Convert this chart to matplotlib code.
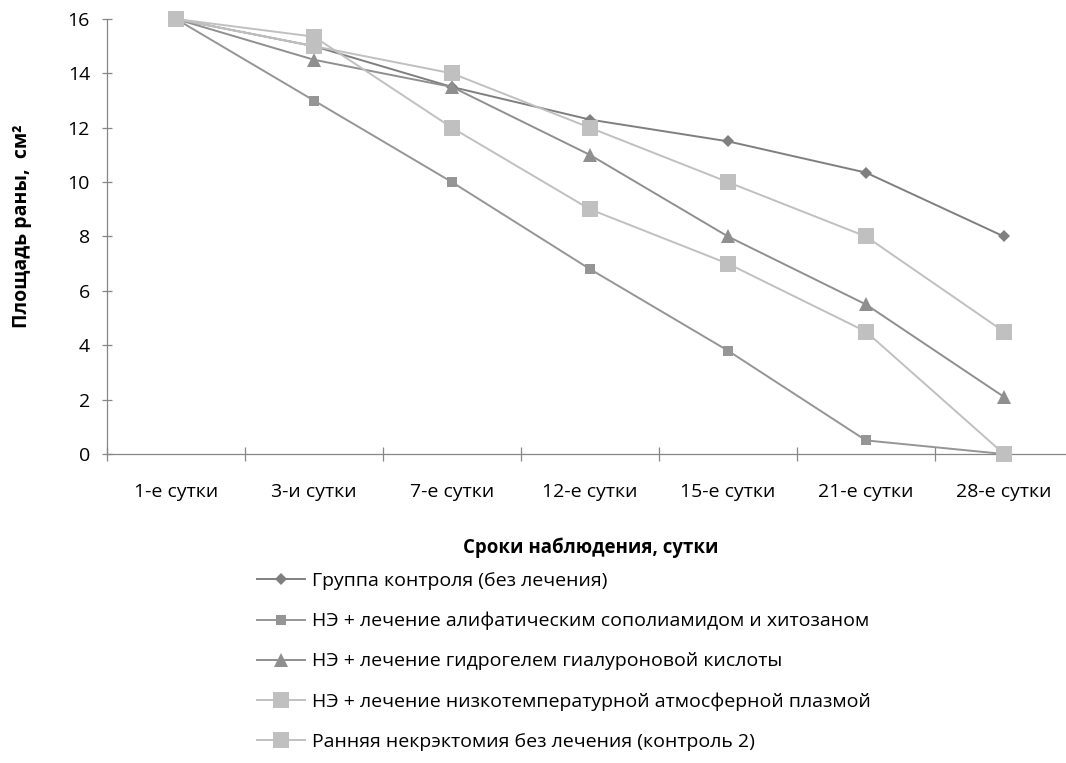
import matplotlib
matplotlib.use("Agg")
import matplotlib.pyplot as plt

plt.rcParams['font.family'] = ['Open Sans', 'DejaVu Sans']

days = ["1-е сутки", "3-и сутки", "7-е сутки", "12-е сутки", "15-е сутки", "21-е сутки", "28-е сутки"]

control = [16, 15.0, 13.5, 12.3, 11.5, 10.35, 8.0]
copolyamide = [16, 13.0, 10.0, 6.8, 3.8, 0.5, 0.0]
hydrogel = [16, 14.5, 13.5, 11.0, 8.0, 5.5, 2.1]
plasma = [16, 15.35, 12.0, 9.0, 7.0, 4.5, 0.0]
control2 = [16, 15.0, 14.0, 12.0, 10.0, 8.0, 4.5]

labels = [
    "Группа контроля (без лечения)",
    "НЭ + лечение алифатическим сополиамидом и хитозаном",
    "НЭ + лечение гидрогелем гиалуроновой кислоты",
    "НЭ + лечение низкотемпературной атмосферной плазмой",
    "Ранняя некрэктомия без лечения (контроль 2)",
]

series = [control, copolyamide, hydrogel, plasma, control2]
styles = [
    dict(color="#7f7f7f", marker="D", ms=6.4),
    dict(color="#959595", marker="s", ms=7.2),
    dict(color="#8f8f8f", marker="^", ms=10),
    dict(color="#c0c0c0", marker="s", ms=11.5),
    dict(color="#c0c0c0", marker="s", ms=11.5),
]

fig = plt.figure(figsize=(10.66, 7.63), dpi=100)
W, H = 1066, 763
x0, x1 = 107, 1073
y0, y1 = 454, 19
ax = fig.add_axes([x0 / W, 1 - y0 / H, (x1 - x0) / W, (y0 - y1) / H])

x = list(range(len(days)))
handles = []
for vals, st, lab in zip(series, styles, labels):
    ln, = ax.plot(x, vals, color=st["color"], lw=1.4, marker=st["marker"],
                  ms=st["ms"], markeredgewidth=0, markerfacecolor=st["color"],
                  label=lab, clip_on=False, zorder=3)
    handles.append(ln)

ax.set_xlim(-0.5, len(days) - 0.5)
ax.set_ylim(0, 16)
ax.set_yticks(range(0, 17, 2))
ax.set_xticks([i - 0.5 for i in range(len(days))], minor=False)
ax.set_xticklabels([])
ax.set_xticks(x, minor=True)
ax.set_xticklabels(days, minor=True)

for s in ["top", "right"]:
    ax.spines[s].set_visible(False)
for s in ["left", "bottom"]:
    ax.spines[s].set_color("#868686")
    ax.spines[s].set_linewidth(0.9)

ax.tick_params(axis="y", which="major", direction="inout", length=6.5, width=0.9,
               color="#868686", labelsize=14, pad=9, labelcolor="black")
ax.tick_params(axis="x", which="major", direction="inout", length=9.5, width=0.9,
               color="#868686")
ax.tick_params(axis="x", which="minor", length=0, labelsize=14, pad=21, labelcolor="black")

fig.text(22 / W, 1 - 226 / H, "Площадь раны,  см²", rotation=90, ha="center", va="center",
         fontsize=14, fontweight="bold")
fig.text(591 / W, 1 - 548 / H, "Сроки наблюдения, сутки", ha="center", va="center",
         fontsize=13.4, fontweight="bold")

leg = fig.legend(handles=handles, labels=labels, loc="upper left",
                 bbox_to_anchor=(257 / W, 1 - 572 / H), frameon=False,
                 fontsize=14, handlelength=2.45, handletextpad=0.4,
                 labelspacing=1.13, borderpad=0, borderaxespad=0)

fig.savefig("out.png", dpi=100)
